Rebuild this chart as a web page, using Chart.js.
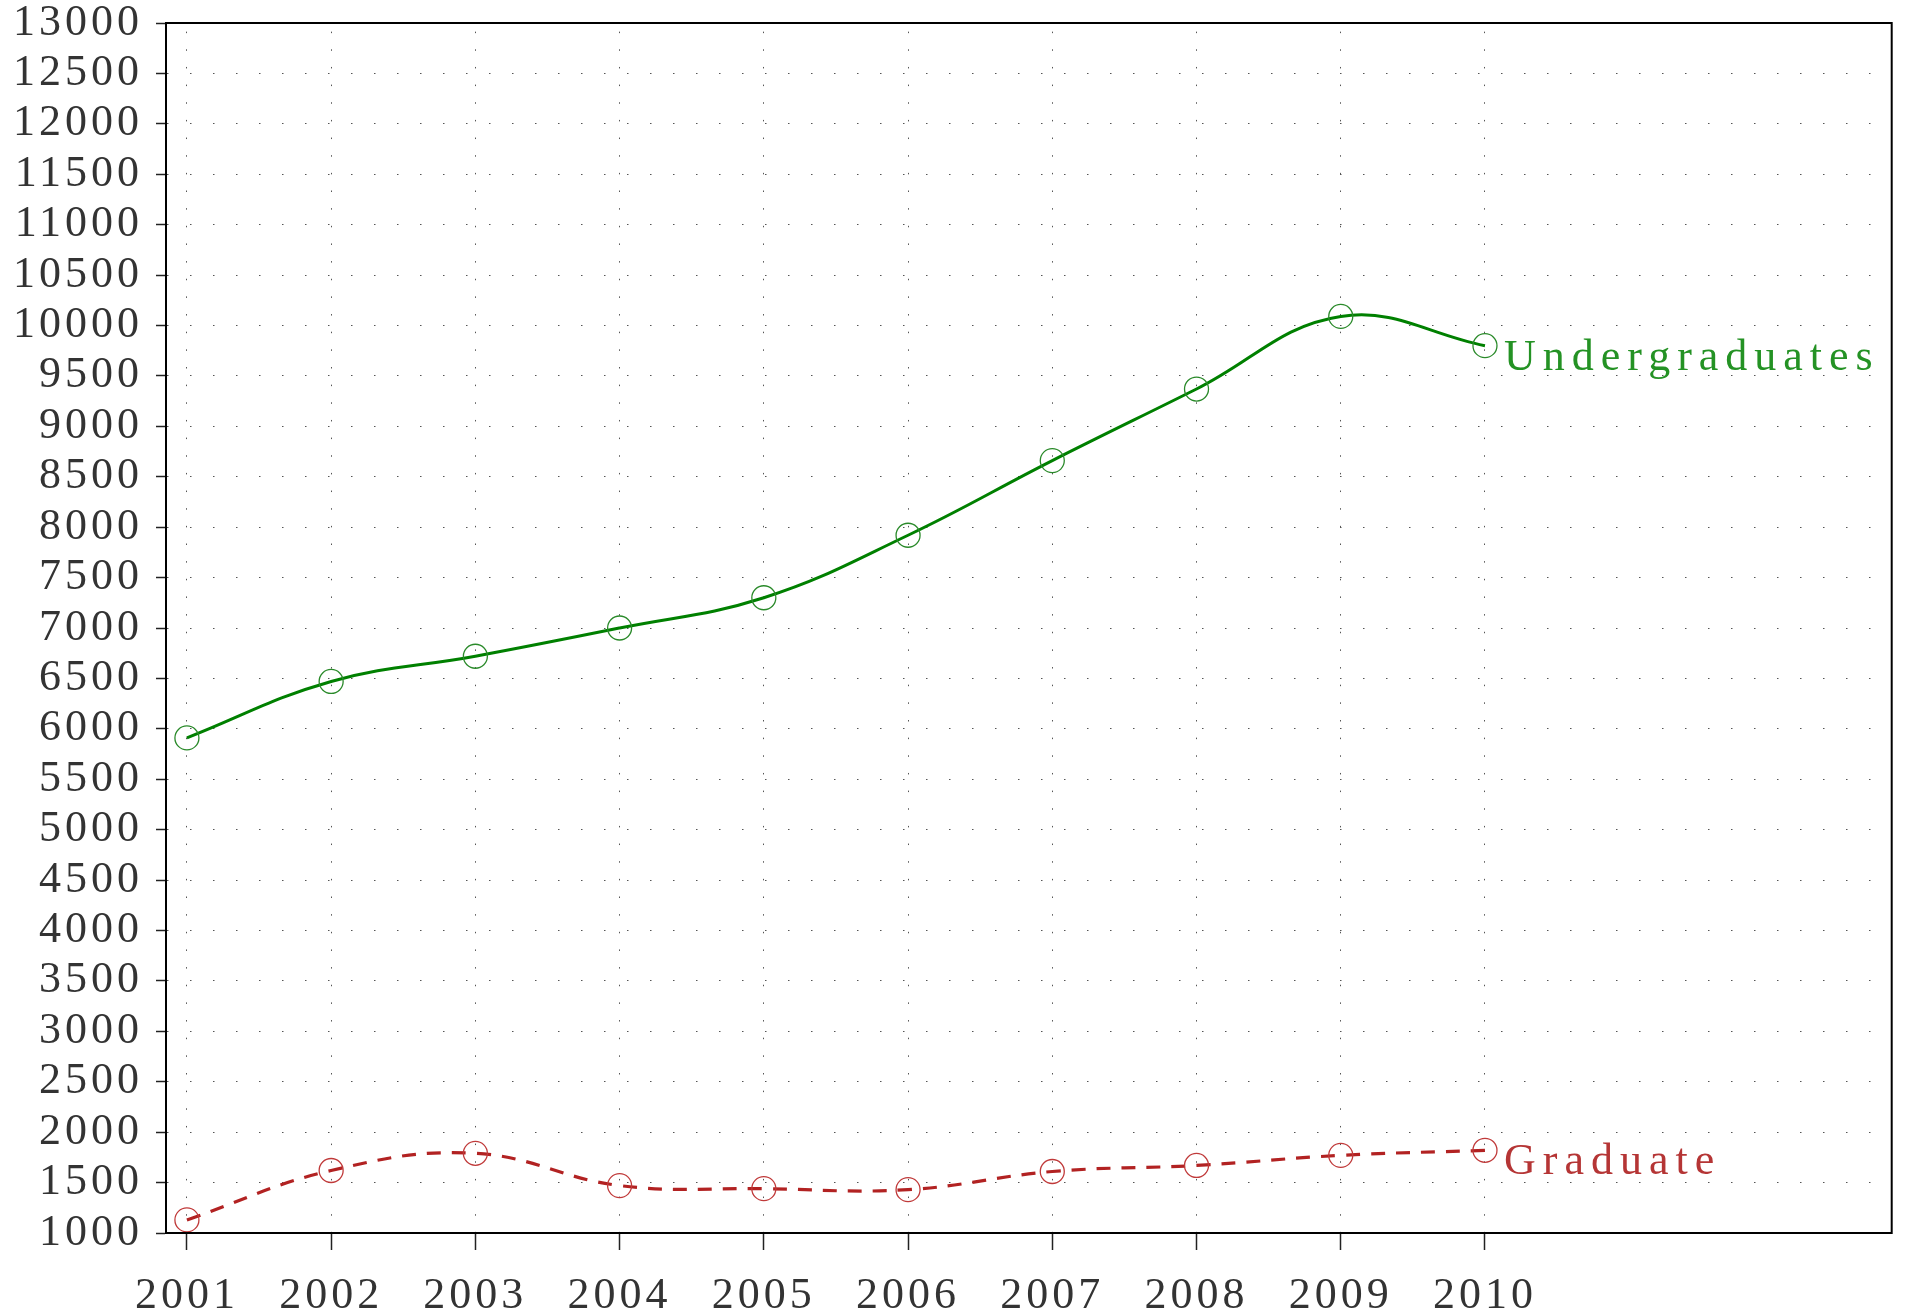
<!DOCTYPE html>
<html>
<head>
<meta charset="utf-8">
<script src="https://cdn.jsdelivr.net/npm/chart.js@4"></script>
<style>
  html, body { margin: 0; padding: 0; background: #fff; }
  canvas { display: block; }
</style>
</head>
<body>
<canvas id="myChart" width="1905" height="1316"></canvas>
<script>
// years on the x axis
var years = [2001, 2002, 2003, 2004, 2005, 2006, 2007, 2008, 2009, 2010];
// enrolment
var undergrad = [5910, 6470, 6720, 7000, 7300, 7920, 8660, 9370, 10090, 9800];
var graduate = [1130, 1620, 1790, 1470, 1440, 1430, 1610, 1670, 1770, 1820];
var seriesNames = ['Undergraduates', 'Graduate'];

// axis ranges
var xMin = 2000.855, xMax = 2012.82;
var yMin = 1000, yMax = 13000, yStep = 500;

var tickFont = { family: 'Liberation Serif', size: 44, lineHeight: 1 };

function toPoints(vals) {
    return vals.map(function (v, i) { return { x: years[i], y: v }; });
}

// wide letter spacing like the original fonts
var spacing = {
    id: 'spacing',
    beforeLayout: function (chart) { chart.ctx.letterSpacing = '4px'; },
    beforeDraw: function (chart) { chart.ctx.letterSpacing = '4px'; }
};

// box round the plot area
var frame = {
    id: 'frame',
    afterDatasetsDraw: function (chart) {
        var a = chart.chartArea, ctx = chart.ctx;
        ctx.save();
        ctx.strokeStyle = '#000';
        ctx.lineWidth = 2;
        ctx.strokeRect(a.left, a.top, a.right - a.left, a.bottom - a.top);
        ctx.restore();
    }
};

// series name next to the last point
var endLabels = {
    id: 'endLabels',
    afterDatasetsDraw: function (chart) {
        var ctx = chart.ctx;
        chart.data.datasets.forEach(function (ds, i) {
            var pts = chart.getDatasetMeta(i).data;
            var last = pts[pts.length - 1];
            ctx.save();
            ctx.letterSpacing = '7px';
            ctx.font = '44px "Liberation Serif"';
            ctx.fillStyle = ds.textColor;
            ctx.textAlign = 'left';
            ctx.textBaseline = 'alphabetic';
            ctx.fillText(ds.label, last.x + 19, last.y + 24);
            ctx.restore();
        });
    }
};

var ctx = document.getElementById('myChart').getContext('2d');

var myChart = new Chart(ctx, {
    type: 'line',
    data: {
        datasets: [{
            label: seriesNames[0],
            data: toPoints(undergrad),
            borderColor: '#008000',
            borderWidth: 3,
            tension: 0.4,
            fill: false,
            pointRadius: 12,
            pointBorderWidth: 1.3,
            pointBorderColor: '#2a8a2a',
            pointBackgroundColor: 'rgba(0,0,0,0)',
            textColor: '#249224'
        }, {
            label: seriesNames[1],
            data: toPoints(graduate),
            borderColor: '#b22222',
            borderWidth: 3.2,
            borderDash: [14, 11],
            tension: 0.4,
            fill: false,
            pointRadius: 12,
            pointBorderWidth: 1.3,
            pointBorderColor: '#c03a3a',
            pointBackgroundColor: 'rgba(0,0,0,0)',
            textColor: '#b53535'
        }]
    },
    options: {
        responsive: false,
        animation: false,
        devicePixelRatio: 1,
        layout: { padding: { left: 0, top: 23, right: 7, bottom: 0 } },
        plugins: {
            legend: { display: false },
            tooltip: { enabled: false }
        },
        scales: {
            x: {
                type: 'linear',
                min: xMin,
                max: xMax,
                afterBuildTicks: function (s) {
                    s.ticks = years.map(function (y) { return { value: y }; });
                },
                ticks: {
                    autoSkip: false,
                    maxRotation: 0,
                    padding: 24,
                    color: '#333',
                    font: tickFont,
                    callback: function (v) { return String(v); }
                },
                grid: {
                    color: '#555',
                    lineWidth: 1,
                    tickLength: 17,
                    tickWidth: 1.5,
                    tickColor: '#222'
                },
                border: { display: true, color: '#000', width: 2, dash: [1.5, 16.15], dashOffset: 9 },
                afterFit: function (s) {
                    s.height = 83;
                    s.paddingLeft = 0;
                    s.paddingRight = 0;
                }
            },
            y: {
                type: 'linear',
                min: yMin,
                max: yMax,
                ticks: {
                    stepSize: yStep,
                    autoSkip: false,
                    padding: 13,
                    color: '#333',
                    font: tickFont,
                    callback: function (v) { return String(v); }
                },
                grid: {
                    color: '#555',
                    lineWidth: 1,
                    tickLength: 10,
                    tickWidth: 1.5,
                    tickColor: '#222'
                },
                border: { display: true, color: '#000', width: 2, dash: [1.5, 21.5] },
                afterFit: function (s) {
                    s.width = 166;
                    s.paddingTop = 0;
                    s.paddingBottom = 0;
                }
            }
        }
    },
    plugins: [spacing, frame, endLabels]
});
</script>
</body>
</html>
